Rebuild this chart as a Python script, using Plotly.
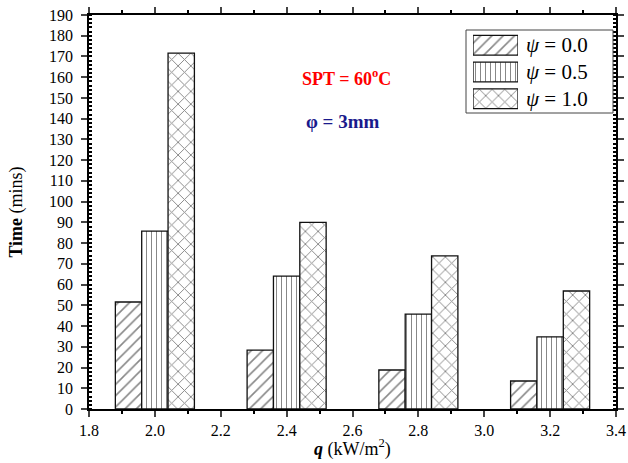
import plotly.graph_objects as go

q_groups = [2.0, 2.4, 2.8, 3.2]
offsets = [-0.08, 0.0, 0.08]
series_names = ["ψ = 0.0", "ψ = 0.5", "ψ = 1.0"]
legend_labels = ["<i>ψ</i> = 0.0", "<i>ψ</i> = 0.5", "<i>ψ</i> = 1.0"]
time_psi_00 = [51.6, 28.4, 18.8, 13.5]
time_psi_05 = [85.8, 64.1, 45.8, 34.8]
time_psi_10 = [171.6, 90.0, 73.8, 56.9]
patterns = ["/", "|", "x"]
pattern_sizes = [8, 5, 9]

series = [time_psi_00, time_psi_05, time_psi_10]


def marker(pat, size):
    return dict(color="white", line=dict(color="#111", width=1.3),
                pattern=dict(shape=pat, fgcolor="#111", bgcolor="white",
                             size=size, solidity=0.2))


fig = go.Figure()
for name, vals, off, pat, ps in zip(series_names, series, offsets, patterns, pattern_sizes):
    fig.add_trace(go.Bar(
        x=[g + off for g in q_groups], y=vals, width=0.08, name=name,
        marker=marker(pat, ps), showlegend=False,
    ))

# custom legend: swatches drawn as bars in an inset axis
for i, (pat, ps) in enumerate(zip(patterns, pattern_sizes)):
    fig.add_trace(go.Bar(
        x=[1], y=[i], orientation="h", width=0.74, xaxis="x2", yaxis="y2",
        marker=marker(pat, ps), showlegend=False, hoverinfo="skip",
    ))

font = "Liberation Serif"
L, R, T, B = 89, 12, 15, 54
W, H = 628, 463
pw, ph = W - L - R, H - T - B


def px_x(p):
    return (p - L) / pw


def px_y(p):
    return (H - B - p) / ph


annotations = [
    dict(text="<b>SPT = 60<sup>o</sup>C</b>", x=px_x(346), y=px_y(77), xref="paper", yref="paper",
         yanchor="middle", showarrow=False, font=dict(size=18, color="#ff0000", family=font)),
    dict(text="<b>φ = 3mm</b>", x=px_x(343), y=px_y(122), xref="paper", yref="paper",
         yanchor="middle", showarrow=False, font=dict(size=19, color="#1a1a8c", family=font)),
    dict(text="<b><i>q</i></b> (kW/m<sup>2</sup>)", x=px_x(352), y=px_y(448),
         xref="paper", yref="paper", xanchor="center", yanchor="middle",
         showarrow=False, font=dict(size=18, family=font)),
]
for i, lab in enumerate(legend_labels):
    annotations.append(dict(text=lab, x=px_x(524), y=i, xref="paper", yref="y2",
                            xanchor="left", yanchor="middle", showarrow=False,
                            font=dict(size=21, family=font)))

fig.update_layout(
    width=W, height=H, margin=dict(l=L, r=R, t=T, b=B),
    plot_bgcolor="white", paper_bgcolor="white",
    font=dict(family=font, color="black", size=16),
    showlegend=False, barmode="overlay",
    xaxis=dict(range=[1.8, 3.4], dtick=0.2, tick0=1.8, tickformat=".1f", automargin=False,
               ticks="outside", ticklen=6, tickwidth=1.5, showline=True, linecolor="black",
               linewidth=1.5, mirror="allticks", showgrid=False, zeroline=False,
               tickfont=dict(family=font, size=16), ticklabelstandoff=0,
               minor=dict(dtick=0.1, ticks="outside", ticklen=3, tickcolor="black")),
    yaxis=dict(range=[0, 190], dtick=10, ticks="outside", ticklen=6, tickwidth=1.5, automargin=False,
               showline=True, linecolor="black", linewidth=1.5, mirror="allticks",
               showgrid=False, zeroline=False,
               tickfont=dict(family=font, size=16), ticklabelstandoff=5,
               minor=dict(dtick=2, ticks="inside", ticklen=3, tickcolor="black"),
               title=dict(text="<b>Time</b> (mins)", font=dict(size=18, family=font), standoff=22)),
    xaxis2=dict(domain=[px_x(473), px_x(518)], range=[0, 1], visible=False, fixedrange=True),
    yaxis2=dict(domain=[px_y(112), px_y(32)], range=[2.5, -0.5], visible=False, fixedrange=True),
    shapes=[dict(type="rect", xref="paper", yref="paper", x0=px_x(466), x1=px_x(613),
                 y0=px_y(113), y1=px_y(30), line=dict(color="#444", width=1))],
    annotations=annotations,
)
fig.write_html("out.html")
